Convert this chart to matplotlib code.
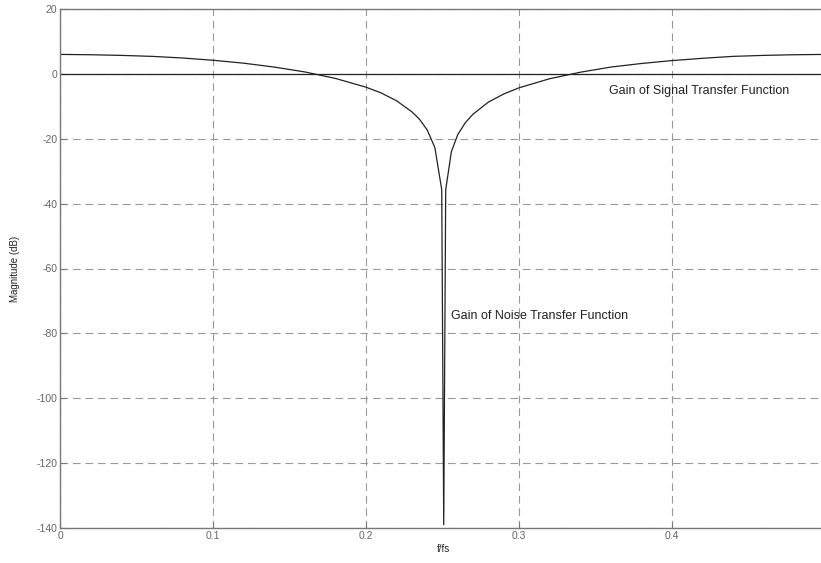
import numpy as np
import matplotlib
matplotlib.use('Agg')
import matplotlib.pyplot as plt

plt.rcParams['font.family'] = ['Liberation Sans', 'DejaVu Sans']
plt.rcParams['lines.scale_dashes'] = False
plt.rcParams['axes.unicode_minus'] = False

# noise transfer function magnitude
f_ntf = [0.00, 0.02, 0.04, 0.06, 0.08, 0.10, 0.12, 0.14, 0.16, 0.18,
         0.20, 0.21, 0.22, 0.23, 0.235, 0.24, 0.245, 0.2495, 0.2508, 0.2521,
         0.2558, 0.26, 0.265, 0.27, 0.28, 0.29, 0.30, 0.32, 0.34, 0.36,
         0.38, 0.40, 0.42, 0.44, 0.46, 0.48, 0.50]
mag_ntf = [6.0, 5.9, 5.7, 5.4, 4.9, 4.2, 3.3, 2.1, 0.6, -1.4,
           -4.1, -5.9, -8.3, -11.7, -14.0, -17.3, -22.7, -35.7, -139.0, -35.7,
           -24.0, -18.7, -15.0, -12.4, -8.7, -6.2, -4.3, -1.5, 0.5, 2.1,
           3.2, 4.1, 4.8, 5.4, 5.7, 5.9, 6.0]

# signal transfer function: flat
f_stf = [0.0, 0.5]
mag_stf = [0.0, 0.0]

xticks = [0, 0.1, 0.2, 0.3, 0.4]
yticks = [-140, -120, -100, -80, -60, -40, -20, 0, 20]

fig = plt.figure(figsize=(8.21, 5.63), dpi=100)
ax = fig.add_axes([60 / 821, 35 / 563, 1 - 60 / 821, 519 / 563])

ax.plot(f_stf, mag_stf, color='#222222', lw=0.9)
ax.plot(f_ntf, mag_ntf, color='#222222', lw=0.9)

ax.set_xlim(0, (821 - 60) / 1530)
ax.set_ylim(-140, 20)
ax.set_xticks(xticks)
ax.set_xticklabels(['0', '0.1', '0.2', '0.3', '0.4'])
ax.set_yticks(yticks)

ax.grid(True, color='#999999', linestyle=(0, (5.5, 3.5)), lw=0.8)
ax.tick_params(direction='in', length=4, width=0.8, colors='#777777',
               labelsize=7.5, labelcolor='#666666', pad=2)
for side in ['left', 'bottom', 'top']:
    ax.spines[side].set_color('#777777')
    ax.spines[side].set_linewidth(1.0)
ax.spines['right'].set_visible(False)

ax.set_xlabel('f/fs', fontsize=7, color='#222222')
ax.set_ylabel('Magnitude (dB)', fontsize=7, color='#222222')
ax.xaxis.set_label_coords(0.5 * (443 - 60) / 380.5, -0.031)
ax.yaxis.set_label_coords(-0.0526, 0.5)

ax.text(0.3588, -5.2, 'Gain of Signal Transfer Function', fontsize=9,
        color='#222222', va='center', ha='left')
ax.text(0.2556, -74.6, 'Gain of Noise Transfer Function', fontsize=9,
        color='#222222', va='center', ha='left')

fig.savefig('out.png', dpi=100)
